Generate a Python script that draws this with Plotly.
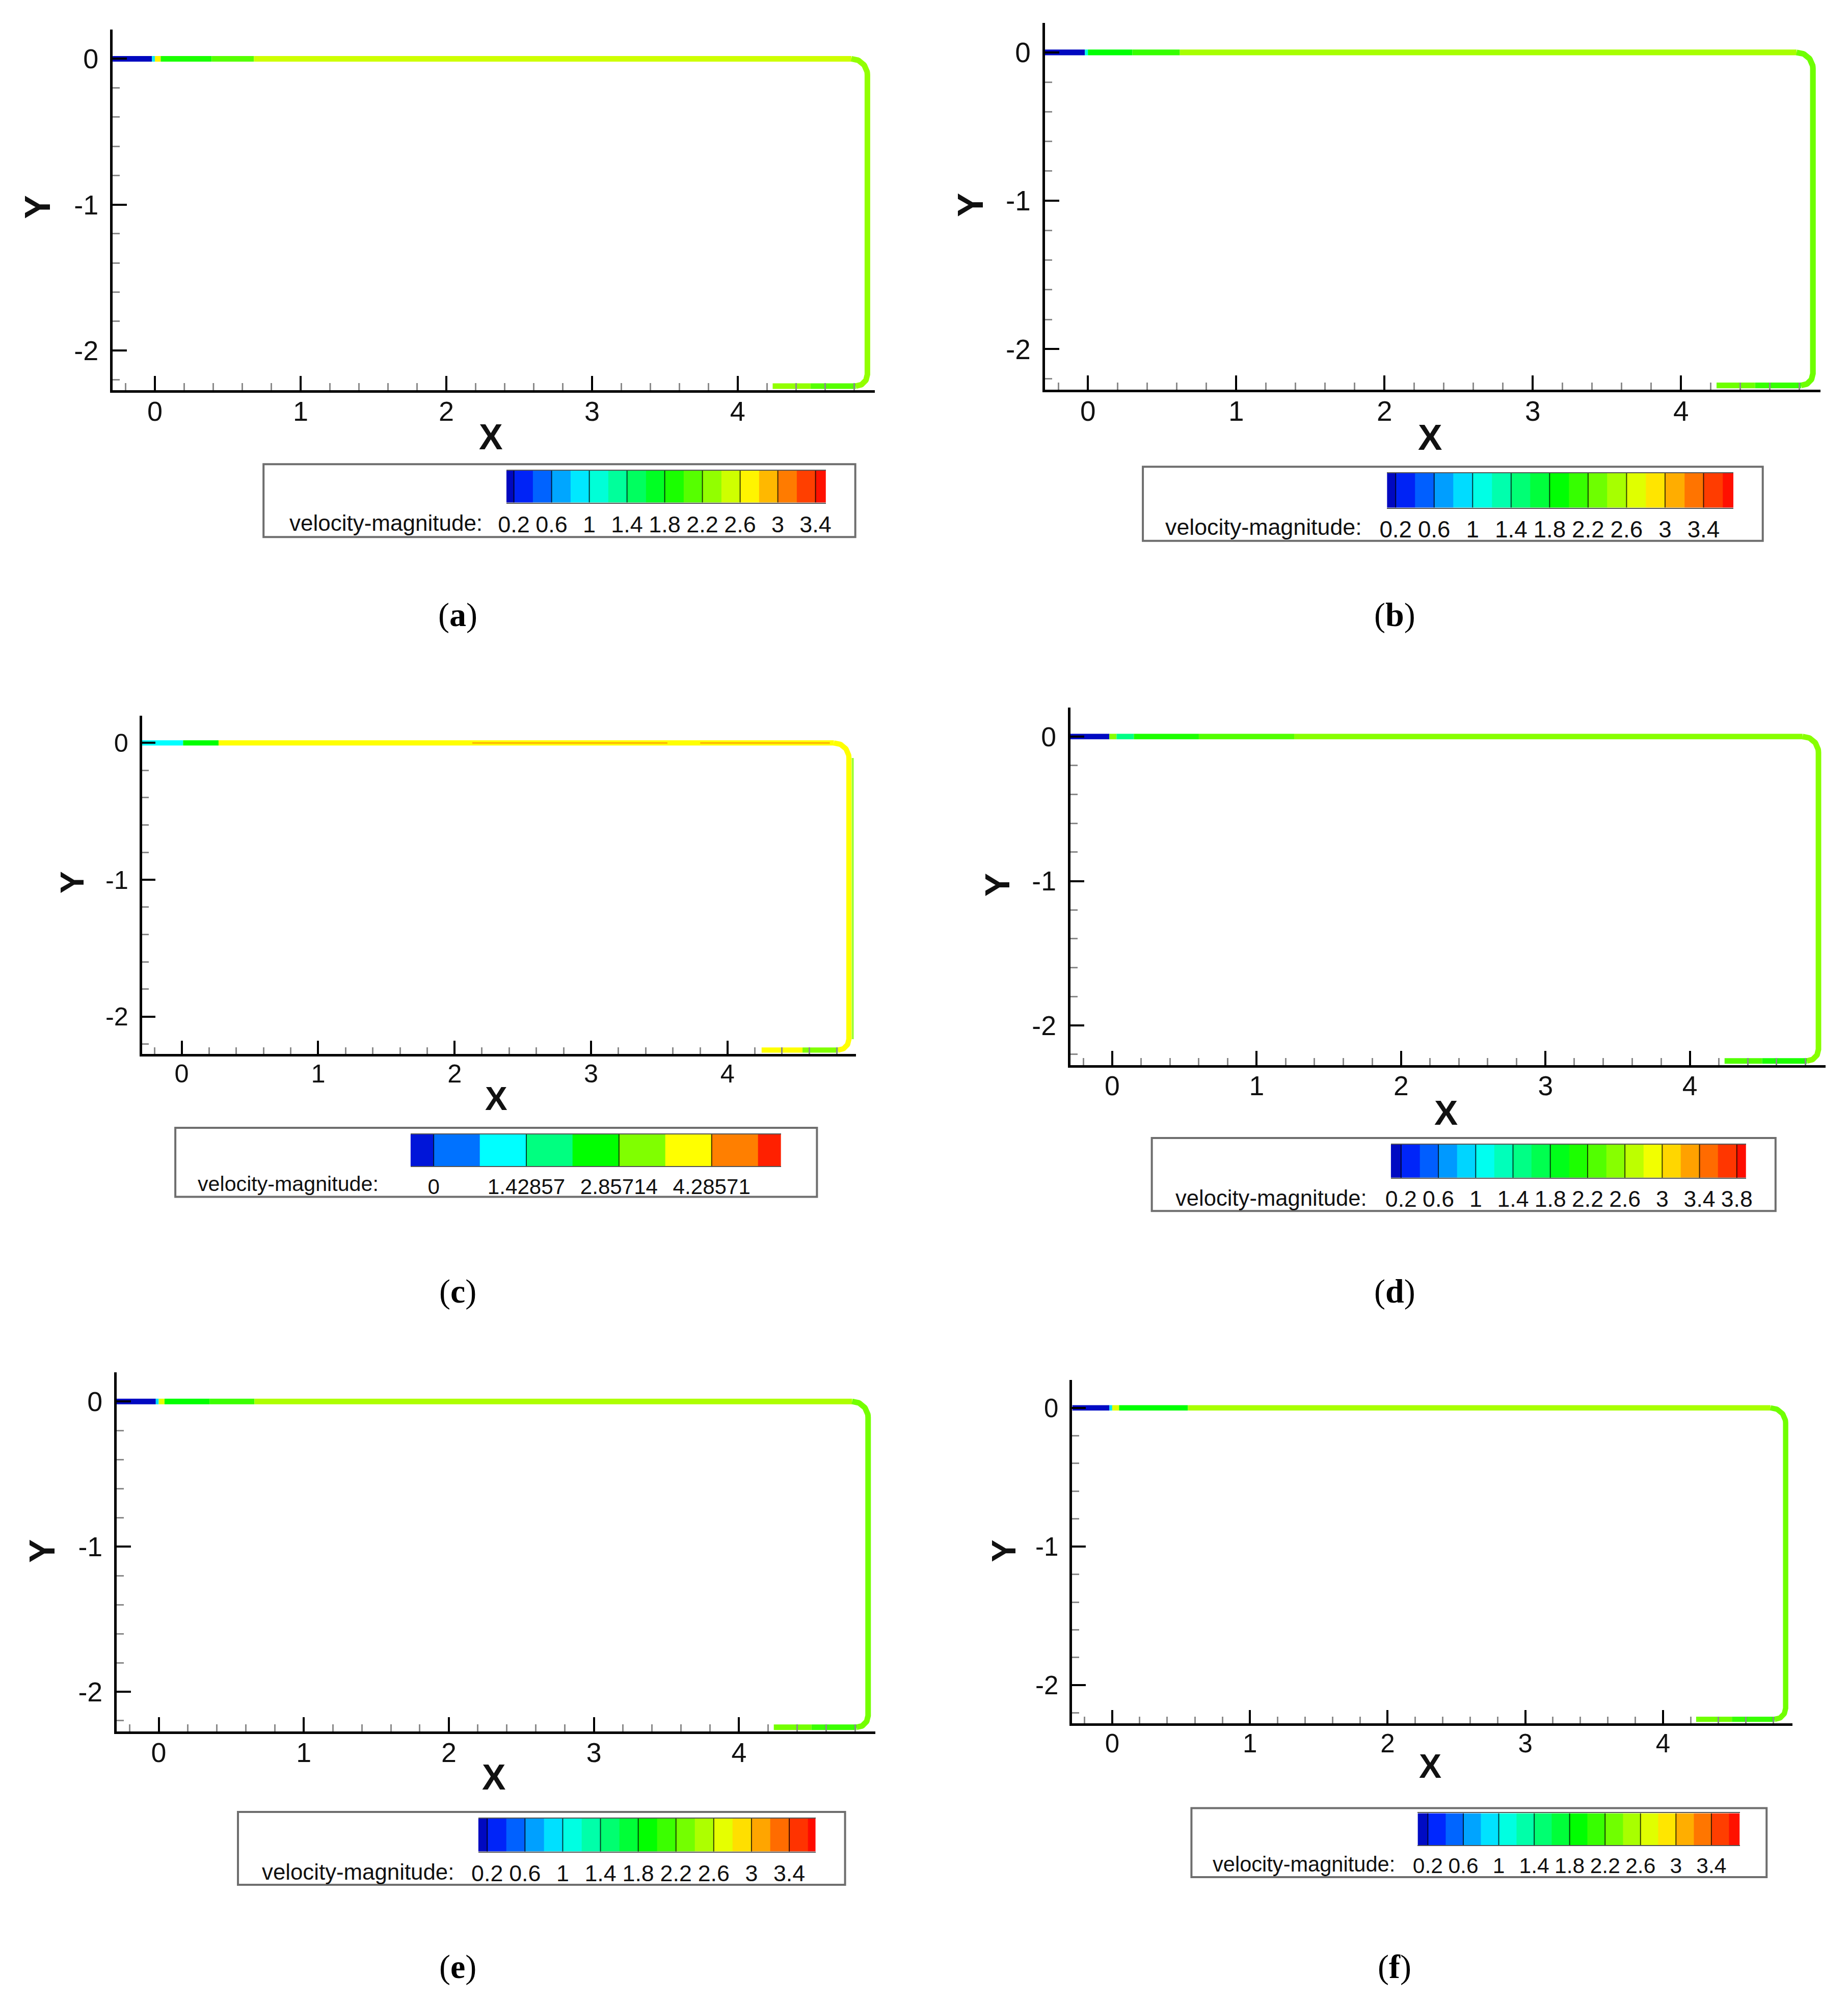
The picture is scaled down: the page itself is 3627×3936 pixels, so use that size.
import numpy as np
import plotly.graph_objects as go

# ---------------- canvas / reference sketch grid ----------------
W, H = 3627, 3936
SW, SH = 1445.0, 1568.0          # coordinates measured on the shrunk reference
KX, DX = 0.9926, 5.2             # horizontal correction of the captured page

# ---------------- data ----------------
XR = [-0.29, 4.94]
YR = [-2.275, 0.2]
X_TICKS = [0, 1, 2, 3, 4]
X_TICK_TEXT = ["0", "1", "2", "3", "4"]
Y_TICKS = [0, -1, -2]
Y_TICK_TEXT = ["0", "-1", "-2"]

# pipe centre-line geometry (data units)
PIPE_X_START = -0.29
PIPE_X_RIGHT = 4.89
PIPE_Y_BOTTOM = -2.245
PIPE_X_OUTLET = 4.24
PIPE_R = [0.11, 0.08]

# contour levels
LEVELS_02 = [0.2, 0.4, 0.6, 0.8, 1.0, 1.2, 1.4, 1.6, 1.8, 2.0,
             2.2, 2.4, 2.6, 2.8, 3.0, 3.2, 3.4, 3.6, 3.8]
LEVELS_C = [0.0, 0.714286, 1.428571, 2.142857, 2.857143, 3.571429, 4.285714, 5.0]
LABELS_STD = [0.2, 0.6, 1, 1.4, 1.8, 2.2, 2.6, 3, 3.4]
LABELS_D = [0.2, 0.6, 1, 1.4, 1.8, 2.2, 2.6, 3, 3.4, 3.8]
LABELS_C = [0, 1.42857, 2.85714, 4.28571]
LABELS_C_TEXT = ["0", "1.42857", "2.85714", "4.28571"]

PANELS = ["a", "b", "c", "d", "e", "f"]
BAR_MIN = [0.12, 0.11, -0.357, 0.09, 0.105, 0.085]
BAR_MAX = [3.51, 3.71, 5.357, 3.90, 3.68, 3.72]

# velocity along the pipe: top run (segment start x, velocity)
A_TOP_X = [-0.29, -0.02, 0.00, 0.04, 0.39, 0.68]
A_TOP_V = [0.15, 0.9, 2.7, 1.9, 2.1, 2.5]
B_TOP_X = [-0.29, -0.02, 0.00, 0.30, 0.62]
B_TOP_V = [0.15, 1.0, 1.9, 2.1, 2.4]
C_TOP_X = [-0.29, 0.01, 0.27]
C_TOP_V = [1.0, 2.5, 3.9]
D_TOP_X = [-0.29, -0.02, 0.03, 0.15, 0.60, 1.26]
D_TOP_V = [0.15, 2.4, 1.5, 2.0, 2.25, 2.5]
E_TOP_X = [-0.29, -0.02, 0.00, 0.04, 0.35, 0.66]
E_TOP_V = [0.15, 0.9, 2.6, 1.9, 2.1, 2.4]
F_TOP_X = [-0.29, -0.02, 0.00, 0.05, 0.55]
F_TOP_V = [0.15, 0.9, 2.6, 1.9, 2.4]

# bends + vertical run velocity
RIGHT_V = [2.3, 2.3, 3.9, 2.45, 2.3, 2.3]

# outlet run (segment start x, velocity)
A_OUT_X = [4.24, 4.50]
A_OUT_V = [2.3, 2.1]
B_OUT_X = [4.24, 4.50]
B_OUT_V = [2.3, 2.1]
C_OUT_X = [4.25, 4.55]
C_OUT_V = [3.9, 3.2]
D_OUT_X = [4.24, 4.50]
D_OUT_V = [2.3, 2.1]
E_OUT_X = [4.24, 4.50]
E_OUT_V = [2.3, 2.1]
F_OUT_X = [4.24, 4.50]
F_OUT_V = [2.3, 2.1]

# panel (c): darker core streak along the top run, greener outer wall on the riser
C_CORE_X0 = [2.13, 3.80]
C_CORE_X1 = [3.56, 4.75]
C_CORE_V = 4.5
C_WALL_V = 3.2

TOP_X = [A_TOP_X, B_TOP_X, C_TOP_X, D_TOP_X, E_TOP_X, F_TOP_X]
TOP_V = [A_TOP_V, B_TOP_V, C_TOP_V, D_TOP_V, E_TOP_V, F_TOP_V]
OUT_X = [A_OUT_X, B_OUT_X, C_OUT_X, D_OUT_X, E_OUT_X, F_OUT_X]
OUT_V = [A_OUT_V, B_OUT_V, C_OUT_V, D_OUT_V, E_OUT_V, F_OUT_V]

# ---------------- layout (sketch px) ----------------
GEOM = {
    "a": dict(x0=120, ppx=114, y0=46, ppy=114, box=(205, 668, 363, 420), bar=(395, 645, 368, 393),
              lab_y=409, vm_x=377, xt=(383, 342), yt=(28, 162), tag=(357, 481)),
    "b": dict(x0=850, ppx=116, y0=41, ppy=116, box=(893, 1378, 365, 423), bar=(1084, 1355, 370, 397),
              lab_y=412, vm_x=1065, xt=(1118, 342), yt=(758, 160), tag=(1090, 481)),
    "c": dict(x0=141, ppx=106.75, y0=581, ppy=107, box=(136, 638, 882, 936), bar=(320, 610, 887, 912),
              lab_y=926, vm_x=296, xt=(387, 859), yt=(55, 690), tag=(357, 1010)),
    "d": dict(x0=869, ppx=113, y0=576, ppy=113, box=(900, 1388, 890, 947), bar=(1087, 1365, 895, 921),
              lab_y=937, vm_x=1069, xt=(1130, 870), yt=(779, 692), tag=(1090, 1010)),
    "e": dict(x0=123, ppx=113.5, y0=1096, ppy=113.5, box=(185, 660, 1417, 1474), bar=(373, 637, 1422, 1448),
              lab_y=1464, vm_x=355, xt=(385, 1390), yt=(32, 1213), tag=(357, 1538)),
    "f": dict(x0=869, ppx=107.75, y0=1101, ppy=108.5, box=(931, 1381, 1414, 1468), bar=(1108, 1360, 1418, 1443),
              lab_y=1458, vm_x=1091, xt=(1118, 1381), yt=(784, 1213), tag=(1090, 1538)),
}

SANS = "Liberation Sans, Arial, Helvetica, sans-serif"
SERIF = "Liberation Serif, Times New Roman, serif"
INK = "#111111"

RAINBOW = [(0.00, (0, 0, 175)), (0.06, (0, 40, 255)), (0.25, (0, 255, 255)),
           (0.50, (0, 255, 0)), (0.75, (255, 255, 0)), (1.00, (255, 0, 0))]


def rainbow(t):
    t = min(max(t, 0.0), 1.0)
    for (t0, c0), (t1, c1) in zip(RAINBOW[:-1], RAINBOW[1:]):
        if t <= t1:
            f = (t - t0) / (t1 - t0) if t1 > t0 else 0
            return "rgb(%d,%d,%d)" % tuple(round(a + (b - a) * f) for a, b in zip(c0, c1))
    return "rgb(255,0,0)"


def px(x):
    return ((x - DX) / KX) / SW


def py(y):
    return 1 - y / SH


def text_ann(x, y, text, font, **kw):
    d = dict(x=px(x), y=py(y), xref="paper", yref="paper", text=text, showarrow=False,
             xanchor="center", yanchor="middle", font=font)
    d.update(kw)
    return d


fig = go.Figure()
layout = dict(width=W, height=H, autosize=False, margin=dict(l=0, r=0, t=0, b=0, pad=0),
              paper_bgcolor="white", plot_bgcolor="rgba(0,0,0,0)", showlegend=False)
annotations = []
shapes = []

for i, p in enumerate(PANELS):
    g = GEOM[p]
    s = g["ppx"] / 114.0
    k = i + 1
    kl = i + 7
    ax = "" if k == 1 else str(k)

    # band edges / colours for this panel
    levels = LEVELS_C if p == "c" else LEVELS_02
    edges = [BAR_MIN[i]] + [l for l in levels if BAR_MIN[i] < l < BAR_MAX[i]] + [BAR_MAX[i]]
    nb = len(edges) - 1
    span = edges[-1] - edges[0]
    band_col = [rainbow(((edges[j] + edges[j + 1]) / 2 - edges[0]) / span) for j in range(nb)]

    def vcol(v):
        for j in range(nb):
            if v < edges[j + 1]:
                return band_col[j]
        return band_col[-1]

    lw = 11 * s
    xa, ya = "x" + ax, "y" + ax
    r1, r2 = PIPE_R

    # top run
    xs_top = TOP_X[i] + [PIPE_X_RIGHT - r1]
    for j, v in enumerate(TOP_V[i]):
        fig.add_trace(go.Scatter(x=[xs_top[j], xs_top[j + 1]], y=[0, 0], mode="lines",
                                 line=dict(color=vcol(v), width=lw), xaxis=xa, yaxis=ya,
                                 hoverinfo="skip"))
    # bends + vertical
    th1 = np.linspace(np.pi / 2, 0, 24)
    th2 = np.linspace(0, -np.pi / 2, 24)
    rx = list(PIPE_X_RIGHT - r1 + r1 * np.cos(th1)) + list(PIPE_X_RIGHT - r2 + r2 * np.cos(th2))
    ry = list(-r1 + r1 * np.sin(th1)) + list(PIPE_Y_BOTTOM + r2 + r2 * np.sin(th2))
    fig.add_trace(go.Scatter(x=rx, y=ry, mode="lines", line=dict(color=vcol(RIGHT_V[i]), width=lw),
                             xaxis=xa, yaxis=ya, hoverinfo="skip"))
    # outlet run
    xs_out = OUT_X[i] + [PIPE_X_RIGHT - r2]
    for j, v in enumerate(OUT_V[i]):
        fig.add_trace(go.Scatter(x=[xs_out[j], xs_out[j + 1]], y=[PIPE_Y_BOTTOM] * 2, mode="lines",
                                 line=dict(color=vcol(v), width=lw), xaxis=xa, yaxis=ya,
                                 hoverinfo="skip"))
    if p == "c":
        for x0c, x1c in zip(C_CORE_X0, C_CORE_X1):
            fig.add_trace(go.Scatter(x=[x0c, x1c], y=[0, 0], mode="lines",
                                     line=dict(color=vcol(C_CORE_V), width=3), opacity=0.6,
                                     xaxis=xa, yaxis=ya, hoverinfo="skip"))
        wx = PIPE_X_RIGHT + 0.028
        fig.add_trace(go.Scatter(x=[wx, wx], y=[-r1, PIPE_Y_BOTTOM + r2], mode="lines",
                                 line=dict(color=vcol(C_WALL_V), width=4), opacity=0.8,
                                 xaxis=xa, yaxis=ya, hoverinfo="skip"))

    # main axes
    dl = g["x0"] + XR[0] * g["ppx"]
    dr = g["x0"] + XR[1] * g["ppx"]
    dt = g["y0"] - YR[1] * g["ppy"]
    db = g["y0"] - YR[0] * g["ppy"]
    common = dict(showline=True, linecolor="black", linewidth=5, ticks="inside", ticklen=28 * s,
                  tickwidth=4, tickcolor="black", showgrid=False, zeroline=False,
                  tickfont=dict(family=SANS, size=54 * s, color=INK), tickmode="array",
                  minor=dict(tickmode="linear", tick0=0, dtick=0.2, ticks="inside", ticklen=14 * s,
                             tickwidth=3, tickcolor="#8a8a8a", showgrid=False))
    layout["xaxis" + ax] = dict(common, domain=[px(dl), px(dr)], range=XR, anchor=ya,
                                tickvals=X_TICKS, ticktext=X_TICK_TEXT, ticklabelstandoff=-10)
    layout["yaxis" + ax] = dict(common, domain=[py(db), py(dt)], range=YR, anchor=xa,
                                tickvals=Y_TICKS, ticktext=Y_TICK_TEXT, ticklabelstandoff=12)

    annotations.append(text_ann(g["xt"][0], g["xt"][1], "<b>X</b>",
                                dict(family=SANS, size=70 * s, color=INK)))
    annotations.append(text_ann(g["yt"][0], g["yt"][1], "<b>Y</b>",
                                dict(family=SANS, size=70 * s, color=INK), textangle=-90))
    annotations.append(text_ann(g["tag"][0], g["tag"][1], "(<b>%s</b>)" % p,
                                dict(family=SERIF, size=66, color="black")))

    # legend box
    bl, br, bt, bb = g["box"]
    shapes.append(dict(type="rect", xref="paper", yref="paper", x0=px(bl), x1=px(br),
                       y0=py(bb), y1=py(bt), line=dict(color="#6e6e6e", width=4),
                       fillcolor="white", layer="below"))
    annotations.append(text_ann(g["vm_x"], g["lab_y"], "velocity-magnitude:",
                                dict(family=SANS, size=44 * s, color=INK), xanchor="right"))

    # colour bar
    lx, ly = "x%d" % kl, "y%d" % kl
    cs = []
    for j, c in enumerate(band_col):
        cs += [[j / nb, c], [(j + 1) / nb, c]]
    fig.add_trace(go.Heatmap(x=edges, y=[0, 1], z=[list(range(nb))], zmin=-0.5, zmax=nb - 0.5,
                             colorscale=cs, showscale=False, xaxis=lx, yaxis=ly, hoverinfo="skip"))
    if p == "c":
        labs = LABELS_C
        sep = [LEVELS_C[0], LEVELS_C[2], LEVELS_C[4], LEVELS_C[6]]
        ttext = LABELS_C_TEXT
    else:
        labs = LABELS_D if p == "d" else LABELS_STD
        sep = labs
        ttext = ["%g" % v for v in labs]
    sx, sy = [], []
    for v in sep:
        sx += [v, v, None]
        sy += [0, 1, None]
    fig.add_trace(go.Scatter(x=sx, y=sy, mode="lines", line=dict(color="rgba(0,0,0,0.75)", width=2),
                             xaxis=lx, yaxis=ly, hoverinfo="skip"))
    cl, cr, ct, cb = g["bar"]
    layout["xaxis%d" % kl] = dict(domain=[px(cl), px(cr)], range=[edges[0], edges[-1]], anchor=ly,
                                  tickmode="array", tickvals=labs, ticktext=ttext, ticks="",
                                  showline=True, mirror=True, linecolor="#555555", linewidth=2,
                                  showgrid=False, zeroline=False, ticklabelstandoff=2,
                                  tickfont=dict(family=SANS, size=45 * s, color=INK))
    layout["yaxis%d" % kl] = dict(domain=[py(cb), py(ct)], range=[0, 1], anchor=lx, visible=False)

layout["annotations"] = annotations
layout["shapes"] = shapes
fig.update_layout(**layout)
fig.write_html("out.html",
               config={"responsive": False, "displayModeBar": False},
               post_script="document.body.style.margin='0px';"
                           "document.documentElement.style.overflow='hidden';"
                           "document.body.style.overflow='hidden';")
